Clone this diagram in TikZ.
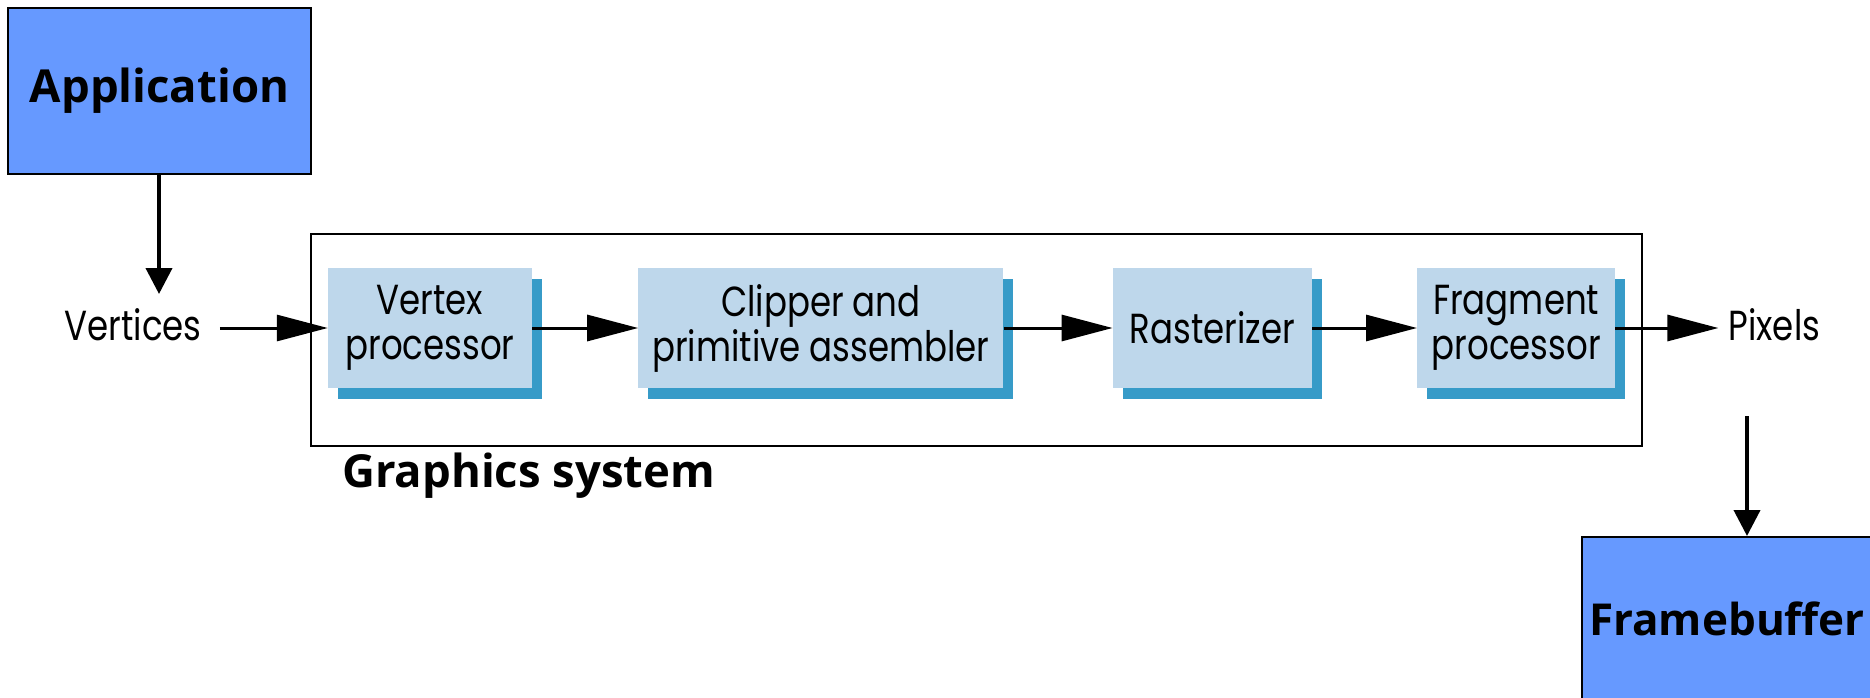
\documentclass[tikz,border=0pt]{standalone}
\usepackage{fontspec}
\setmainfont{Open Sans}
\newfontfamily\stagefont[FakeStretch=0.81]{Poppins}
\usepackage{tikz}
\usetikzlibrary{positioning,arrows.meta,shadows}

\definecolor{appblue}{RGB}{102,153,255}
\definecolor{stagefill}{RGB}{190,215,235}
\definecolor{stageshade}{RGB}{55,155,200}

\begin{document}
\begin{tikzpicture}[x=1pt, y=-1pt,
  stage/.style={fill=stagefill, minimum height=120pt, inner sep=0pt, align=center,
    font=\stagefont\fontsize{42}{45}\selectfont,
    copy shadow={shadow xshift=10pt, shadow yshift=-11pt, fill=stageshade, draw=none}},
  plain/.style={inner ysep=0pt, yshift=3pt, font=\stagefont\fontsize{42}{45}\selectfont},
  bigbox/.style={draw, line width=2pt, fill=appblue, font=\bfseries\fontsize{45.5}{52}\selectfont},
  flow/.style={-{Triangle[length=51pt,width=26pt]}, line width=3pt},
  feed/.style={-{Triangle[length=26pt,width=26pt]}, line width=4pt}]
  \clip (0,0) rectangle (1870,698);

  \node[bigbox, minimum width=303pt, minimum height=166pt] (app) at (159.5,91) {Application};

  % pipeline stages
  \node[stage, minimum width=204pt] (vp) at (430,328) {Vertex\\processor};
  \node[stage, minimum width=365pt, right=106pt of vp] (clip) {Clipper and\\primitive assembler};
  \node[stage, minimum width=199pt, right=109pt of clip] (rast) {Rasterizer};
  \node[stage, minimum width=198pt, right=105pt of rast] (frag) {Fragment\\processor};
  \node[plain, inner xsep=18pt, left=108pt of vp] (vtx) {Vertices};
  \node[plain, inner xsep=10pt, right=103pt of frag] (pix) {Pixels};

  \path[flow]
  (vtx.east |- vp.west) edge (vp)
  (vp) edge (clip)
  (clip) edge (rast)
  (rast) edge (frag)
  (frag) edge (pix.west |- frag.east);

  % graphics system frame
  \coordinate (sysNW) at (311,234);
  \coordinate (sysSE) at (1642,446);
  \draw[line width=1.5pt] (sysNW) rectangle (sysSE);
  \node[anchor=base west, inner sep=0pt, font=\bfseries\fontsize{45.5}{52}\selectfont]
    (syslabel) at (342,487) {Graphics system};

  \node[bigbox, anchor=north west, minimum width=290pt, minimum height=164pt,
    font=\bfseries\fontsize{44}{52}\selectfont] (fb) at (1581,536) {Framebuffer};

  \coordinate (appin) at (159,294);
  \coordinate (pixout) at (1747,416);
  \draw[feed] (app.south -| appin) -- (appin);
  \draw[feed] (pixout) -- (pixout |- fb.north);
\end{tikzpicture}
\end{document}
